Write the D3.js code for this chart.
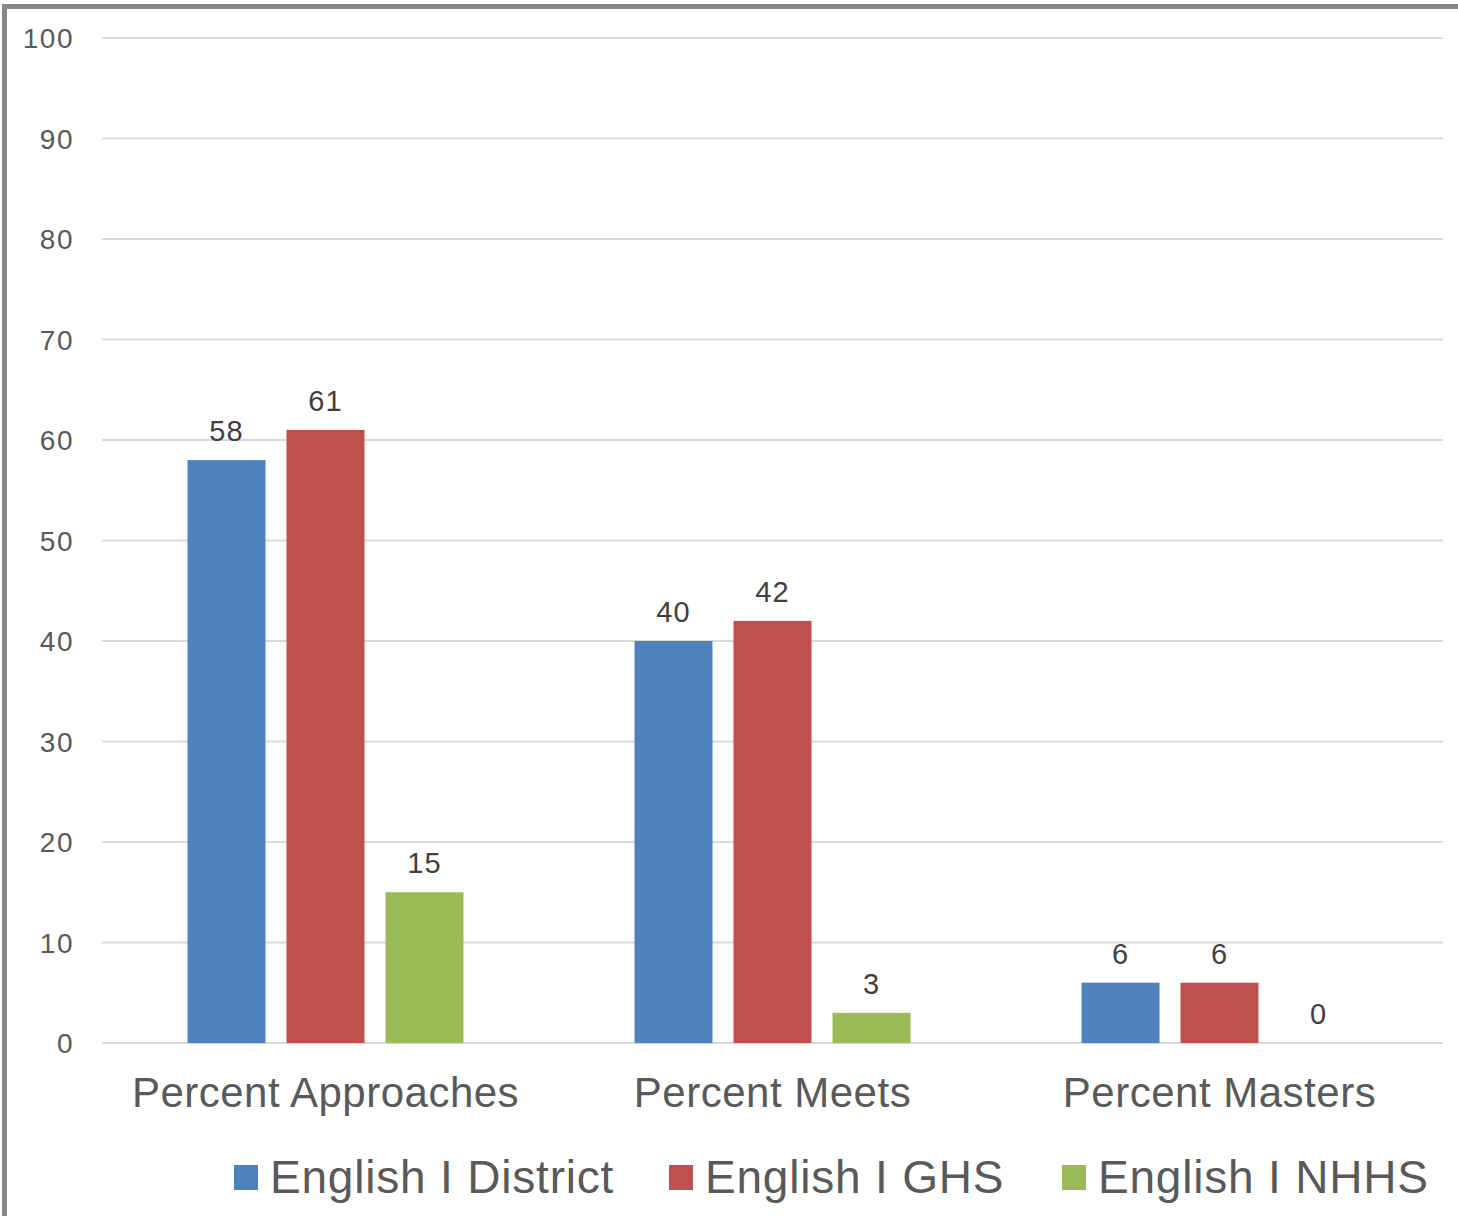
<!DOCTYPE html>
<html>
<head>
<meta charset="utf-8">
<script src="https://cdn.jsdelivr.net/npm/d3@7"></script>
<style>
  body { margin: 0; background: #fff; }
  svg { display: block; font-family: "Liberation Sans", Arial, sans-serif; }
</style>
</head>
<body>
<svg width="1458" height="1216"></svg>
<script>
var categories = ['Percent Approaches', 'Percent Meets', 'Percent Masters'];
var seriesNames = ['English I District', 'English I GHS', 'English I NHHS'];
var district = [58, 40, 6];
var ghs = [61, 42, 6];
var nhhs = [15, 3, 0];
var yTicks = [0, 10, 20, 30, 40, 50, 60, 70, 80, 90, 100];

function main() {
	var svg = d3.select('svg'),
	width = +svg.attr('width'),
	height = +svg.attr('height');

	var colors = ['#4f81bd', '#c0504d', '#9bbb59'];
	var series = [district, ghs, nhhs];

	var left = 102, right = 1443, top = 38, bottom = 1043;

	// outer frame
	svg.append('rect')
		.attr('x', 4.5).attr('y', 6.5)
		.attr('width', width + 20).attr('height', height + 20)
		.attr('fill', 'none')
		.attr('stroke', '#878787')
		.attr('stroke-width', 5);

	var x0 = d3.scaleBand().domain(categories).range([left, right]);
	// bars 78px wide, 21px apart, centred in each category
	var groupW = 78 * 3 + 21 * 2;
	var x1 = d3.scaleBand().domain(seriesNames)
		.range([(x0.bandwidth() - groupW) / 2, (x0.bandwidth() + groupW) / 2])
		.paddingInner(21 / 99).paddingOuter(0);

	var y = d3.scaleLinear().domain([0, 100]).range([bottom, top]);

	// gridlines
	svg.append('g').selectAll('line')
		.data(yTicks)
		.enter().append('line')
		.attr('x1', left).attr('x2', right)
		.attr('y1', function(d){ return y(d); })
		.attr('y2', function(d){ return y(d); })
		.attr('stroke', '#d9d9d9')
		.attr('stroke-width', 2);

	// y tick labels
	svg.append('g').selectAll('text')
		.data(yTicks)
		.enter().append('text')
		.attr('x', 74)
		.attr('y', function(d){ return y(d) + 10; })
		.attr('text-anchor', 'end')
		.attr('font-size', 28)
		.attr('letter-spacing', 1.5)
		.attr('fill', '#595959')
		.text(function(d){ return d; });

	// bars
	var table = [];
	categories.forEach(function(c, i){
		seriesNames.forEach(function(s, j){
			table.push({cat: c, name: s, value: series[j][i], color: colors[j]});
		});
	});

	var bars = svg.append('g').selectAll('g')
		.data(table)
		.enter().append('g');

	bars.append('rect')
		.attr('x', function(d){ return x0(d.cat) + x1(d.name); })
		.attr('y', function(d){ return y(d.value); })
		.attr('width', x1.bandwidth())
		.attr('height', function(d){ return y(0) - y(d.value); })
		.attr('fill', function(d){ return d.color; });

	bars.append('text')
		.attr('x', function(d){ return x0(d.cat) + x1(d.name) + x1.bandwidth() / 2; })
		.attr('y', function(d){ return y(d.value) - 19; })
		.attr('text-anchor', 'middle')
		.attr('font-size', 29)
		.attr('letter-spacing', 1)
		.attr('fill', '#404040')
		.text(function(d){ return d.value; });

	// category labels
	svg.append('g').selectAll('text')
		.data(categories)
		.enter().append('text')
		.attr('x', function(d){ return x0(d) + x0.bandwidth() / 2; })
		.attr('y', 1107)
		.attr('text-anchor', 'middle')
		.attr('font-size', 42)
		.attr('letter-spacing', 0.5)
		.attr('fill', '#595959')
		.text(function(d){ return d; });

	// legend
	var legendX = [234, 669, 1062];
	var legend = svg.append('g').selectAll('g')
		.data(seriesNames)
		.enter().append('g')
		.attr('transform', function(d, i){ return 'translate(' + legendX[i] + ',1165)'; });
	legend.append('rect')
		.attr('width', 24).attr('height', 25)
		.attr('fill', function(d, i){ return colors[i]; });
	legend.append('text')
		.attr('x', 36).attr('y', 28)
		.attr('font-size', 46)
		.attr('letter-spacing', 0.8)
		.attr('fill', '#595959')
		.text(function(d){ return d; });
}
main();
</script>
</body>
</html>
